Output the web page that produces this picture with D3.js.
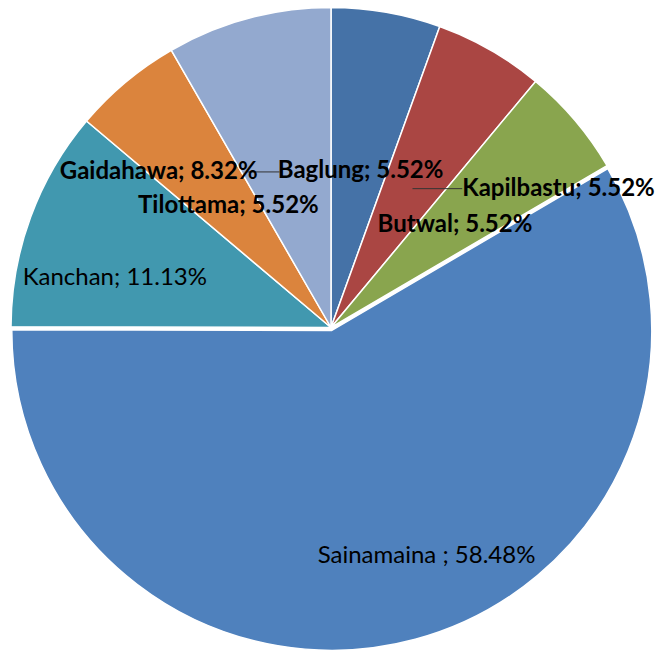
<!DOCTYPE html>
<html>
<head>
<meta charset="utf-8">
<script src="https://cdn.jsdelivr.net/npm/d3@7"></script>
<style>
  html, body { margin: 0; padding: 0; background: #fff; }
  svg { display: block; }
  text { font-family: Lato, "DejaVu Sans", sans-serif; fill: #000; }
</style>
</head>
<body>
<svg id="chart" width="657" height="651"></svg>
<script>
// Share of respondents by location (percent), clockwise from 12 o'clock
const locations = ["Baglung", "Kapilbastu", "Butwal", "Sainamaina ", "Kanchan", "Tilottama", "Gaidahawa"];
const shares    = [5.52, 5.52, 5.52, 58.48, 11.13, 5.52, 8.32];
const sliceColors = ["#4572A7", "#AA4643", "#89A54E", "#4F81BD", "#4198AF", "#DB843D", "#93A9CF"];

// Label styling and placement relative to each slice's centroid
const labelBold    = [true, true, true, false, false, true, true];
const labelOffsets = [[2, 0], [148, -1], [2, 0], [53, 70], [-66, 4], [0, 0], [-131, -2]];
const explode      = [0, 0, 0, 3, 0, 0, 0];
// Leader lines: which labels get one, and where the line ends (x shift from centroid)
const leaders      = [null, { side: "left", endDx: 2 }, null, null, null, null, { side: "right", endDx: -10 }];

const width = 657, height = 651;
const cx = 331, cy = 327.5, radius = 320;
const fontSize = 24;

const svg = d3.select("#chart");
const g = svg.append("g").attr("transform", `translate(${cx},${cy})`);

const data = locations.map((name, i) => ({ name, value: shares[i], i }));

const pie = d3.pie().value(d => d.value).sort(null);
const arcs = pie(data);

const arc = d3.arc().innerRadius(0).outerRadius(radius);
const labelArc = d3.arc().innerRadius(radius * 0.5).outerRadius(radius * 0.5);

function shift(a, dist) {
  const mid = (a.startAngle + a.endAngle) / 2;
  return [Math.sin(mid) * dist, -Math.cos(mid) * dist];
}

g.selectAll("path.slice")
  .data(arcs)
  .join("path")
  .attr("class", "slice")
  .attr("d", arc)
  .attr("transform", d => {
    const [dx, dy] = shift(d, explode[d.data.i]);
    return `translate(${dx},${dy})`;
  })
  .attr("fill", d => sliceColors[d.data.i])
  .attr("stroke", "#fff")
  .attr("stroke-width", 1.5)
  .attr("stroke-linejoin", "round");

const labels = g.selectAll("g.label")
  .data(arcs)
  .join("g")
  .attr("class", "label");

labels.each(function (d) {
  const i = d.data.i;
  const [ex, ey] = shift(d, explode[i]);
  const [px, py] = labelArc.centroid(d);
  const x = px + ex + labelOffsets[i][0];
  const y = py + ey + labelOffsets[i][1];
  const sel = d3.select(this);

  const t = sel.append("text")
    .attr("x", x)
    .attr("y", y)
    .attr("dy", "0.35em")
    .attr("text-anchor", "middle")
    .attr("font-size", fontSize)
    .attr("font-weight", labelBold[i] ? 700 : 400)
    .text(`${d.data.name}; ${d.data.value.toFixed(2)}%`);

  const ld = leaders[i];
  if (ld) {
    const w = t.node().getComputedTextLength();
    const edge = ld.side === "left" ? x - w / 2 : x + w / 2 - 10;
    const endX = px + ex + ld.endDx;
    const ly = y + 1;
    sel.insert("line", "text")
      .attr("x1", edge).attr("y1", ly)
      .attr("x2", endX).attr("y2", ly)
      .attr("stroke", "#333")
      .attr("stroke-width", 1);
  }
});
</script>
</body>
</html>
